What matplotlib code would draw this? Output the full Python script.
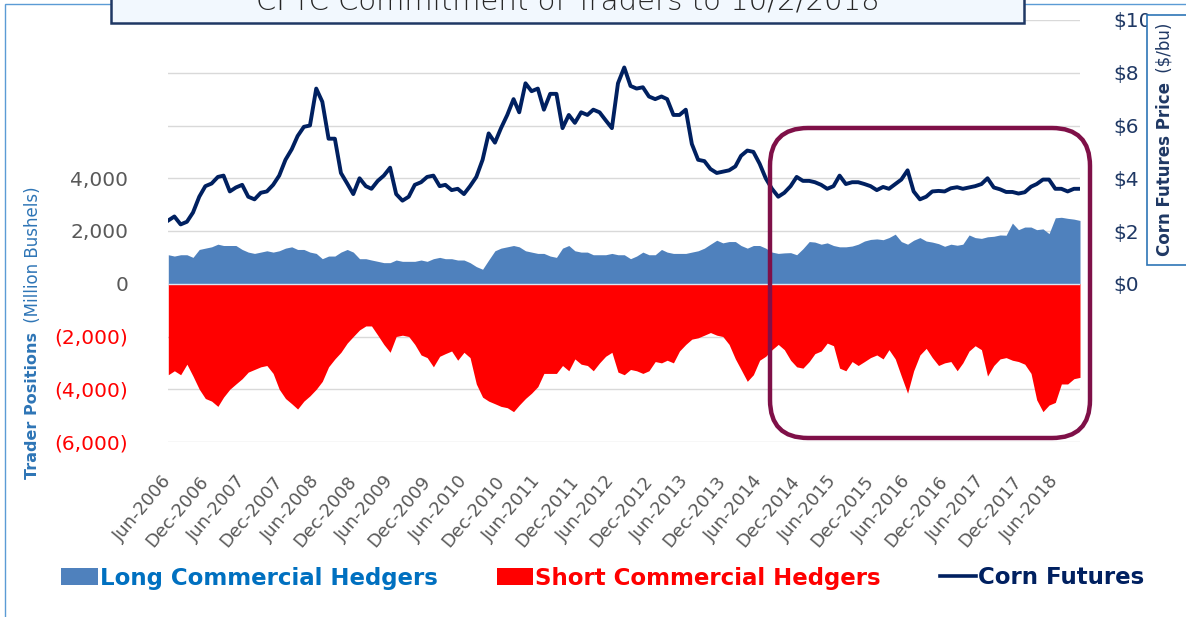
import matplotlib
matplotlib.use('Agg')
import matplotlib.pyplot as plt
import matplotlib.transforms as mtransforms
from matplotlib.patches import FancyBboxPatch, Rectangle, Patch
from matplotlib.lines import Line2D
import pandas as pd

# ---------------- data (monthly) ----------------
months = pd.date_range('2006-06-01', periods=149, freq='MS')

long_hedgers = [  # million bushels
    1100, 1050, 1100, 1100, 1000, 1300, 1350, 1400, 1500, 1450,
    1450, 1450, 1300, 1200, 1150, 1200, 1250, 1200, 1250, 1350,
    1400, 1300, 1300, 1200, 1150, 950, 1050, 1050, 1200, 1300,
    1200, 950, 950, 900, 850, 800, 800, 900, 850, 850,
    850, 900, 850, 950, 1000, 950, 950, 900, 900, 800, 650,
    550, 900, 1250, 1350, 1400, 1450, 1400, 1250, 1200, 1150,
    1150, 1050, 1000, 1350, 1450, 1250, 1200, 1200, 1100, 1100,
    1100, 1150, 1100, 1100, 950, 1050, 1200, 1100, 1100, 1300,
    1200, 1150, 1150, 1150, 1200, 1250, 1350, 1500, 1650, 1550,
    1600, 1600, 1450, 1350, 1450, 1450, 1350, 1200, 1150,
    1170, 1180, 1100, 1330, 1600, 1580, 1500, 1550, 1450, 1400,
    1400, 1430, 1500, 1620, 1680, 1700, 1670, 1750, 1880, 1600,
    1500, 1650, 1750, 1620, 1580, 1520, 1420, 1500, 1460, 1500,
    1850, 1750, 1720, 1780, 1800, 1850, 1840, 2300, 2050, 2150,
    2150, 2050, 2080, 1900, 2500, 2520, 2480, 2450, 2400,
]

short_hedgers = [  # million bushels
    -3450, -3300, -3450, -3050, -3500, -4000, -4350, -4450, -4650, -4300,
    -4000, -3800, -3600, -3350, -3250, -3150, -3100, -3400, -4000, -4350,
    -4550, -4750, -4450, -4250, -4000, -3700, -3150, -2850, -2600, -2250,
    -2000, -1750, -1600, -1600, -1950, -2300, -2600, -2000, -1950, -2000,
    -2300, -2700, -2800, -3150, -2750, -2650, -2550, -2900, -2600, -2800, -3800,
    -4300, -4450, -4550, -4650, -4700, -4850, -4600, -4350, -4150, -3900,
    -3400, -3400, -3400, -3100, -3300, -2850, -3050, -3100, -3300, -3000,
    -2750, -2600, -3350, -3450, -3250, -3300, -3400, -3300, -2950, -3000,
    -2900, -3000, -2550, -2300, -2100, -2050, -1950, -1850, -1950, -2000,
    -2300, -2850, -3250, -3700, -3450, -2900, -2750, -2500, -2300,
    -2500, -2900, -3150, -3200, -2950, -2650, -2550, -2250, -2350, -3200,
    -3300, -2950, -3100, -2950, -2800, -2700, -2850, -2500, -2850, -3500,
    -4150, -3300, -2700, -2450, -2800, -3100, -3000, -2950, -3300, -3000,
    -2550, -2350, -2500, -3500, -3100, -2850, -2800, -2900, -2950, -3050,
    -3400, -4400, -4850, -4600, -4500, -3800, -3800, -3600, -3550,
]

corn_price = [  # $/bu
    2.40, 2.55, 2.25, 2.35, 2.70, 3.30, 3.70, 3.80, 4.05, 4.10,
    3.50, 3.65, 3.75, 3.30, 3.20, 3.45, 3.50, 3.75, 4.10, 4.70,
    5.10, 5.60, 5.95, 6.00, 7.40, 6.90, 5.50, 5.50, 4.20, 3.80,
    3.40, 4.00, 3.70, 3.60, 3.90, 4.10, 4.40, 3.40, 3.15, 3.30,
    3.75, 3.85, 4.05, 4.10, 3.70, 3.75, 3.55, 3.60, 3.40, 3.70, 4.05,
    4.70, 5.70, 5.35, 5.90, 6.40, 7.00, 6.50, 7.60, 7.30, 7.40,
    6.60, 7.20, 7.20, 5.90, 6.40, 6.10, 6.50, 6.40, 6.60, 6.50,
    6.20, 5.90, 7.60, 8.20, 7.50, 7.40, 7.45, 7.10, 7.00, 7.10,
    7.00, 6.40, 6.40, 6.60, 5.30, 4.70, 4.65, 4.35, 4.20, 4.25,
    4.30, 4.45, 4.85, 5.05, 5.00, 4.55, 4.00, 3.60, 3.30,
    3.45, 3.70, 4.05, 3.90, 3.90, 3.85, 3.75, 3.60, 3.70, 4.10,
    3.78, 3.85, 3.85, 3.78, 3.70, 3.55, 3.67, 3.60, 3.78, 3.95,
    4.30, 3.50, 3.20, 3.30, 3.50, 3.52, 3.50, 3.62, 3.66, 3.60,
    3.65, 3.70, 3.78, 4.00, 3.65, 3.58, 3.48, 3.48, 3.42, 3.47,
    3.68, 3.78, 3.95, 3.95, 3.60, 3.60, 3.50, 3.60, 3.60,
]

tick_dates = pd.date_range('2006-06-01', '2018-06-01', freq='6MS')
tick_labels = [d.strftime('%b-%Y') for d in tick_dates]

left_ticks = [-6000, -4000, -2000, 0, 2000, 4000, 6000, 8000, 10000]
left_labels = ['(6,000)', '(4,000)', '(2,000)', '0', '2,000', '4,000', '', '', '']
right_ticks = [0, 2, 4, 6, 8, 10]
right_labels = ['$0', '$2', '$4', '$6', '$8', '$10']

title = 'CFTC Commitment of Traders to 10/2/2018'
legend_labels = ['Long Commercial Hedgers', 'Short Commercial Hedgers', 'Corn Futures']

# ---------------- styling ----------------
BLUE = '#4F81BD'
RED = '#FF0000'
NAVY = '#002060'
GRID = '#D9D9D9'
GRAY = '#595959'

W, H = 1186, 617
fig = plt.figure(figsize=(W / 100, H / 100), dpi=100)
ident = mtransforms.IdentityTransform()

# outer chart border
fig.add_artist(Rectangle((5, -20), 1300, H - 4 + 20, transform=ident,
                         fill=False, edgecolor='#5B9BD5', lw=1.0, zorder=0.5))

ax = fig.add_axes([168.3 / W, 1 - 442 / H, (1080 - 168.3) / W, 422 / H])
ax.fill_between(months, 0, long_hedgers, color=BLUE, lw=0, zorder=2)
ax.fill_between(months, short_hedgers, 0, color=RED, lw=0, zorder=2)
ax.axhline(0, color='#DDE6F0', lw=1.0, zorder=3)
ax.set_xlim(months[0], months[-1])
ax.set_ylim(-6000, 10000)
ax.set_yticks(left_ticks)
ax.set_yticklabels(left_labels, fontsize=14.5)
for lab, v in zip(ax.get_yticklabels(), left_ticks):
    lab.set_color(RED if v < 0 else GRAY)
ax.grid(axis='y', color=GRID, lw=1.0)
ax.set_axisbelow(True)
ax.set_xticks(tick_dates)
ax.set_xticklabels(tick_labels, rotation=50, ha='right', va='center',
                   rotation_mode='anchor', fontsize=13, color=GRAY)
offset = mtransforms.ScaledTranslation(18 / 100, 0, fig.dpi_scale_trans)
for lab in ax.get_xticklabels():
    lab.set_transform(lab.get_transform() + offset)
ax.tick_params(axis='x', length=0, pad=26)
ax.tick_params(axis='y', length=0, pad=29)
for s in ax.spines.values():
    s.set_visible(False)

ax2 = ax.twinx()
ax2.plot(months, corn_price, color=NAVY, lw=2.8, zorder=4, solid_joinstyle='round')
ax2.set_ylim(-6, 10)
ax2.set_yticks(right_ticks)
ax2.set_yticklabels(right_labels, fontsize=14.5, color='#1F3864')
ax2.tick_params(axis='y', length=0, pad=24)
for s in ax2.spines.values():
    s.set_visible(False)

# axis titles
fig.text(33 / W, 1 - 332 / H, 'Trader Positions', rotation=90, rotation_mode='anchor',
         ha='right', va='center', fontsize=11.5, fontweight='bold', color='#2E75B6')
fig.text(33 / W, 1 - 328 / H, ' (Million Bushels)', rotation=90, rotation_mode='anchor',
         ha='left', va='center', fontsize=12, color='#2E75B6')

fig.add_artist(Rectangle((1147, H - 265), 80, 250, transform=ident,
                         facecolor='white', edgecolor='#2E75B6', lw=1.2, zorder=1))
fig.text(1165 / W, 1 - 82 / H, 'Corn Futures Price', rotation=90, rotation_mode='anchor',
         ha='right', va='center', fontsize=12, fontweight='bold', color='#1F3864', zorder=3)
fig.text(1165 / W, 1 - 78 / H, ' ($/bu)', rotation=90, rotation_mode='anchor',
         ha='left', va='center', fontsize=12, color='#1F3864', zorder=3)

# title box (partly cut at top, as in the reference)
fig.add_artist(Rectangle((111, H - 23), 913, 60, transform=ident,
                         facecolor='#F2F8FE', edgecolor='#1F3864', lw=1.8, zorder=2))
fig.text(568 / W, 1 - 10 / H, title, ha='center', va='baseline', fontsize=21,
         fontweight='light', color='#262626', zorder=3)

# highlight box
fig.add_artist(FancyBboxPatch((770, H - 438), 320, 310, transform=ident,
                              boxstyle='round,pad=0,rounding_size=38',
                              fill=False, edgecolor='#7F1048', lw=3.2, zorder=5))

# legend
handles = [Patch(facecolor=BLUE, edgecolor='none'),
           Patch(facecolor=RED, edgecolor='none'),
           Line2D([], [], color=NAVY, lw=2.6)]
leg = fig.legend(handles, legend_labels, loc='center', bbox_to_anchor=(603 / W, 1 - 578 / H),
                 ncol=3, frameon=False,
                 prop={'family': 'DejaVu Sans', 'weight': 'bold', 'size': 16.5},
                 handlelength=1.6, handleheight=0.75, handletextpad=0.1,
                 columnspacing=2.55)
for t, c in zip(leg.get_texts(), ['#0070C0', RED, NAVY]):
    t.set_color(c)

fig.savefig('out.png', dpi=100)
